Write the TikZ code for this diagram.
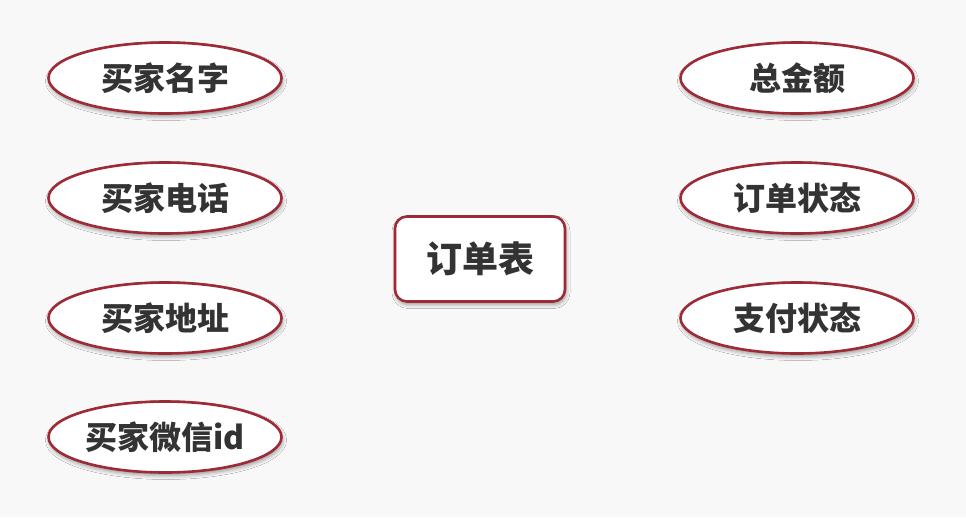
\documentclass[tikz,border=0pt]{standalone}
\usepackage{fontspec}
\newfontfamily\cjk{Noto Sans CJK SC}
\usetikzlibrary{shapes.geometric,shadows.blur}
\definecolor{bgcol}{HTML}{F8F8F8}
\definecolor{rimred}{HTML}{9E2A36}
\definecolor{txtgray}{HTML}{333333}
\begin{document}
\begin{tikzpicture}[x=1pt, y=-1pt,
		field/.style={ellipse, draw=rimred, line width=2.6pt, fill=white,
			minimum width=233pt, minimum height=71pt, inner sep=0pt,
			blur shadow={shadow xshift=1pt, shadow yshift=-3pt, shadow blur radius=4pt, shadow opacity=40},
			font=\cjk\bfseries\fontsize{32}{32}\selectfont, text=txtgray},
		tablebox/.style={rectangle, rounded corners=12pt, draw=rimred, line width=2.6pt, fill=white,
			minimum width=170pt, minimum height=85pt, inner sep=0pt,
			blur shadow={shadow xshift=1pt, shadow yshift=-3pt, shadow blur radius=4pt, shadow opacity=40},
			font=\cjk\bfseries\fontsize{36}{36}\selectfont, text=txtgray}]
		\fill[bgcol] (0,0) rectangle (966,517);
		\useasboundingbox (0,0) rectangle (966,517);

		% buyer fields
		\node[field] (name) at (165,78) {买家名字};
		\node[field] (phone) at (165,198) {买家电话};
		\node[field] (addr) at (165,318) {买家地址};
		\node[field] (wechat) at (165,437) {买家微信id};

		% order table
		\node[tablebox] (order) at (480,259) {订单表};

		% order fields
		\node[field] (amount) at (797,78) {总金额};
		\node[field] (ostatus) at (797,198) {订单状态};
		\node[field] (pstatus) at (797,318) {支付状态};

	\end{tikzpicture}
\end{document}
